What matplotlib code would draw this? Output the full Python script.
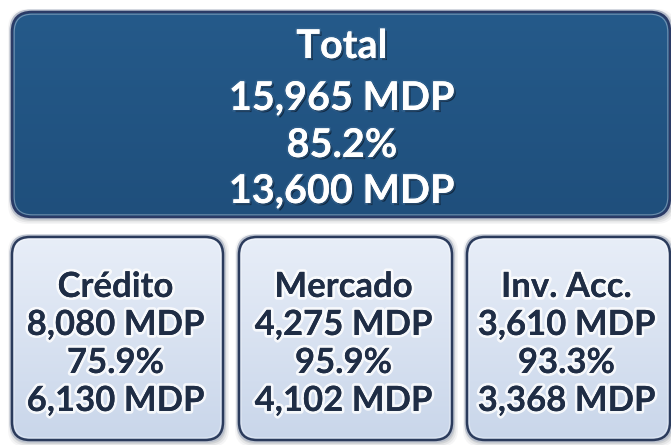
import matplotlib
matplotlib.use("Agg")
import matplotlib.pyplot as plt
import numpy as np
from matplotlib.patches import FancyBboxPatch
import matplotlib.patheffects as pe

# ---- data ----
total_title = "Total"
total_budget = 15965
total_pct = 85.2
total_exercised = 13600

categories = ["Crédito", "Mercado", "Inv. Acc."]
budgets = [8080, 4275, 3610]
pcts = [75.9, 95.9, 93.3]
exercised = [6130, 4102, 3368]
unit = "MDP"

W, H = 671, 445
fig = plt.figure(figsize=(W / 100, H / 100), dpi=100)
ax = fig.add_axes([0, 0, 1, 1])
ax.set_xlim(0, W)
ax.set_ylim(H, 0)
ax.axis("off")
fig.patch.set_facecolor("white")

FONT = "Lato"


def fmt(v):
    return f"{v:,} {unit}"


def box(x0, y0, x1, y1, r, top_col, bot_col, edge, shadow=True):
    if shadow:
        for k, a in [(5, 0.05), (3.5, 0.08), (2, 0.12)]:
            sp = FancyBboxPatch((x0 + 1, y0 + 2), x1 - x0, y1 - y0,
                                boxstyle=f"round,pad={k},rounding_size={r}",
                                fc="#404850", ec="none", alpha=a, zorder=1)
            ax.add_patch(sp)
    outer = FancyBboxPatch((x0, y0), x1 - x0, y1 - y0,
                           boxstyle=f"round,pad=1.5,rounding_size={r}",
                           fc="none", ec="#b8bfcc", lw=1.5, zorder=2)
    ax.add_patch(outer)
    p = FancyBboxPatch((x0, y0), x1 - x0, y1 - y0,
                       boxstyle=f"round,pad=0,rounding_size={r}",
                       fc="none", ec="none", zorder=3)
    ax.add_patch(p)
    t = np.linspace(0, 1, 256)[:, None]
    c0 = np.array(matplotlib.colors.to_rgb(top_col))
    c1 = np.array(matplotlib.colors.to_rgb(bot_col))
    grad = (c0[None, None, :] * (1 - t[:, :, None]) + c1[None, None, :] * t[:, :, None])
    grad = np.repeat(grad, 2, axis=1)
    im = ax.imshow(grad, extent=(x0, x1, y1, y0), aspect="auto", zorder=3,
                   interpolation="bilinear")
    im.set_clip_path(p)
    edgep = FancyBboxPatch((x0, y0), x1 - x0, y1 - y0,
                           boxstyle=f"round,pad=0,rounding_size={r}",
                           fc="none", ec=edge, lw=1.8, zorder=4)
    ax.add_patch(edgep)
    inner = FancyBboxPatch((x0, y0), x1 - x0, y1 - y0,
                           boxstyle=f"round,pad=-2.2,rounding_size={r - 2}",
                           fc="none", ec="white", lw=0.8, alpha=0.35, zorder=4)
    ax.add_patch(inner)


# top box
box(12, 12, 670, 217, 20, "#255a8a", "#1f4f7c", "#2b3b66")
top_lines = [total_title, fmt(total_budget), f"{total_pct}%", fmt(total_exercised)]
top_base = [58, 110, 157, 203]
shadow_fx = [pe.SimplePatchShadow(offset=(1.5, -1.5), shadow_rgbFace="#0a1a2c", alpha=0.75),
             pe.withStroke(linewidth=2.5, foreground="#3d6a94", alpha=0.5),
             pe.Normal()]
for s, yb in zip(top_lines, top_base):
    ax.text(342, yb, s, ha="center", va="baseline", fontsize=28.5, fontweight="bold",
            family=FONT, color="white", path_effects=shadow_fx, zorder=6)

# bottom boxes
bx = [(12, 223), (239, 452), (467, 670)]
bot_base = [297, 335, 373, 411]
glow_fx = [pe.withStroke(linewidth=4, foreground="white", alpha=0.8), pe.Normal()]
for (x0, x1), cat, b, pc, ex in zip(bx, categories, budgets, pcts, exercised):
    box(x0, 237, x1, 440, 18, "#e8eef8", "#c9d6ea", "#2b3b5c")
    cx = (x0 + x1) / 2 - 2
    for s, yb in zip([cat, fmt(b), f"{pc}%", fmt(ex)], bot_base):
        ax.text(cx, yb, s, ha="center", va="baseline", fontsize=25, fontweight="bold",
                family=FONT, color="#1f2d45", path_effects=glow_fx, zorder=6)

fig.savefig("out.png", dpi=100, facecolor="white")
